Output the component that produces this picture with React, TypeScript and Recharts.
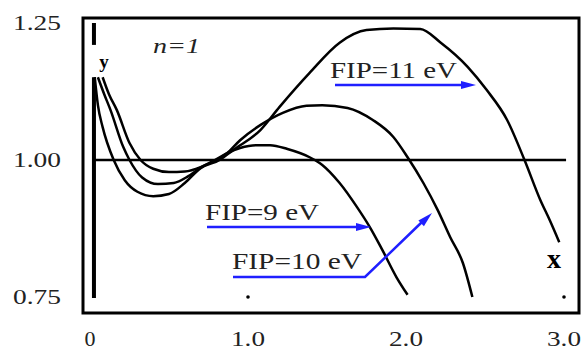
import { LineChart, Line, XAxis, YAxis, ReferenceLine, ReferenceArea, ReferenceDot } from "recharts";

// axis ticks
const xTicks = [0, 1, 2, 3];
const xTickLabels = ["0", "1.0", "2.0", "3.0"];
const yTicks = [0.75, 1.0, 1.25];
const yTickLabels = ["0.75", "1.00", "1.25"];

// FIP = 9 eV
const fip9X = [0.08, 0.12, 0.17, 0.25, 0.32, 0.4, 0.5, 0.6, 0.7, 0.79, 0.87, 0.95, 1.05, 1.14, 1.25, 1.39, 1.47, 1.58, 1.69, 1.77, 1.85, 1.94, 2.01];
const fip9Y = [1.151, 1.12, 1.091, 1.031, 1.0, 0.984, 0.978, 0.979, 0.987, 1.0, 1.013, 1.022, 1.027, 1.027, 1.02, 1.005, 0.991, 0.958, 0.914, 0.878, 0.836, 0.786, 0.754];

// FIP = 10 eV
const fip10X = [0.05, 0.09, 0.13, 0.21, 0.25, 0.33, 0.43, 0.53, 0.62, 0.7, 0.8, 0.87, 0.95, 1.08, 1.22, 1.37, 1.47, 1.63, 1.79, 1.92, 2.01, 2.11, 2.2, 2.28, 2.36, 2.42];
const fip10Y = [1.151, 1.12, 1.091, 1.024, 1.0, 0.968, 0.956, 0.958, 0.97, 0.986, 1.0, 1.013, 1.036, 1.064, 1.086, 1.099, 1.1, 1.095, 1.073, 1.042, 1.005, 0.958, 0.909, 0.859, 0.812, 0.75];

// FIP = 11 eV
const fip11X = [0.03, 0.05, 0.08, 0.15, 0.22, 0.3, 0.4, 0.5, 0.6, 0.7, 0.82, 0.905, 1.08, 1.2, 1.39, 1.58, 1.75, 1.92, 2.09, 2.22, 2.39, 2.51, 2.64, 2.75, 2.85, 2.91, 2.97];
const fip11Y = [1.151, 1.1, 1.06, 1.0, 0.963, 0.942, 0.934, 0.938, 0.958, 0.985, 1.0, 1.018, 1.055, 1.097, 1.159, 1.214, 1.237, 1.24, 1.239, 1.214, 1.17, 1.128, 1.073, 1.0, 0.927, 0.89, 0.85];

const toPoints = (xs: number[], ys: number[]) => xs.map((x, i) => ({ x, y: ys[i] }));

const X_DOMAIN: [number, number] = [-0.0443, 3.0949];
const Y_DOMAIN: [number, number] = [0.7208, 1.2591];

const serif = { fontFamily: "'Liberation Serif'" };
const textColor = "#222";
const blue = "#1f1fff";

function XTick(props: any) {
  const { x, y, payload } = props;
  const label = xTickLabels[xTicks.indexOf(payload.value)];
  return (
    <text x={x} y={y + 25} textAnchor="middle" dominantBaseline="central" style={serif} fontSize={22} fill={textColor}
      textLength={label.length > 1 ? 34 : undefined} lengthAdjust="spacingAndGlyphs">
      {label}
    </text>
  );
}

function YTick(props: any) {
  const { x, y, payload } = props;
  const label = yTickLabels[yTicks.indexOf(payload.value)];
  return (
    <text x={x - 22} y={y} textAnchor="end" dominantBaseline="central" style={serif} fontSize={22} fill={textColor}
      textLength={48} lengthAdjust="spacingAndGlyphs">
      {label}
    </text>
  );
}

function arrowHead(tx: number, ty: number, fx: number, fy: number) {
  const len = Math.hypot(tx - fx, ty - fy);
  const ux = (tx - fx) / len;
  const uy = (ty - fy) / len;
  const bx = tx - ux * 15;
  const by = ty - uy * 15;
  return `${tx},${ty} ${bx - uy * 4},${by + ux * 4} ${bx + uy * 4},${by - ux * 4}`;
}

export default function App() {
  return (
    <div style={{ position: "absolute", left: 0, top: 0, width: 587, height: 349, background: "#fff" }}>
      <LineChart width={587} height={349} margin={{ top: 18, right: 8, bottom: 0, left: 0 }}>
        <XAxis type="number" dataKey="x" domain={X_DOMAIN} ticks={xTicks} tick={<XTick />} axisLine={false}
          tickLine={false} tickSize={0} tickMargin={0} height={36} allowDataOverflow interval={0} />
        <YAxis type="number" dataKey="y" domain={Y_DOMAIN} ticks={yTicks} tick={<YTick />} axisLine={false}
          tickLine={false} tickSize={0} tickMargin={0} width={83} allowDataOverflow interval={0} />
        <ReferenceArea x1={X_DOMAIN[0]} x2={X_DOMAIN[1]} y1={Y_DOMAIN[0]} y2={Y_DOMAIN[1]} fill="none"
          stroke="#000" strokeWidth={3} ifOverflow="visible" />
        <ReferenceLine segment={[{ x: 0.032, y: 1 }, { x: 3.013, y: 1 }]} stroke="#000" strokeWidth={2.5} ifOverflow="visible" />
        <ReferenceLine segment={[{ x: 0.025, y: 0.748 }, { x: 0.025, y: 1.151 }]} stroke="#000" strokeWidth={4} ifOverflow="visible" />
        <ReferenceLine segment={[{ x: 0.025, y: 1.21 }, { x: 0.025, y: 1.25 }]} stroke="#000" strokeWidth={4} ifOverflow="visible" />
        <ReferenceDot x={1} y={0.75} r={1.8} fill="#000" stroke="none" ifOverflow="visible" />
        <ReferenceDot x={3} y={0.75} r={1.8} fill="#000" stroke="none" ifOverflow="visible" />
        <Line data={toPoints(fip9X, fip9Y)} dataKey="y" type="monotone" stroke="#000" strokeWidth={2.5} dot={false} isAnimationActive={false} />
        <Line data={toPoints(fip10X, fip10Y)} dataKey="y" type="monotone" stroke="#000" strokeWidth={2.5} dot={false} isAnimationActive={false} />
        <Line data={toPoints(fip11X, fip11Y)} dataKey="y" type="monotone" stroke="#000" strokeWidth={2.5} dot={false} isAnimationActive={false} />
      </LineChart>

      {/* annotations */}
      <svg width={587} height={349} style={{ position: "absolute", left: 0, top: 0, pointerEvents: "none" }}>
        <text x={153} y={53} style={serif} fontStyle="italic" fontSize={22} fill={textColor} textLength={47} lengthAdjust="spacingAndGlyphs">n=1</text>
        <text x={104} y={68} textAnchor="middle" style={serif} fontWeight="bold" fontSize={19} fill="#000">y</text>
        <text x={554} y={268} textAnchor="middle" style={serif} fontWeight="bold" fontSize={28} fill="#000">x</text>

        <text x={330} y={78} style={serif} fontSize={24} fill={textColor} textLength={127} lengthAdjust="spacingAndGlyphs">FIP=11 eV</text>
        <line x1={335} y1={85} x2={462} y2={85} stroke={blue} strokeWidth={2.5} />
        <polygon points={arrowHead(476, 85, 335, 85)} fill={blue} />

        <text x={205} y={220} style={serif} fontSize={24} fill={textColor} textLength={114} lengthAdjust="spacingAndGlyphs">FIP=9 eV</text>
        <line x1={207} y1={227} x2={357} y2={227} stroke={blue} strokeWidth={2.5} />
        <polygon points={arrowHead(371, 227, 207, 227)} fill={blue} />

        <text x={232} y={269} style={serif} fontSize={24} fill={textColor} textLength={130} lengthAdjust="spacingAndGlyphs">FIP=10 eV</text>
        <polyline points="233,277 365,277 422,222" fill="none" stroke={blue} strokeWidth={2.5} />
        <polygon points={arrowHead(432, 213, 365, 277)} fill={blue} />
      </svg>
    </div>
  );
}
